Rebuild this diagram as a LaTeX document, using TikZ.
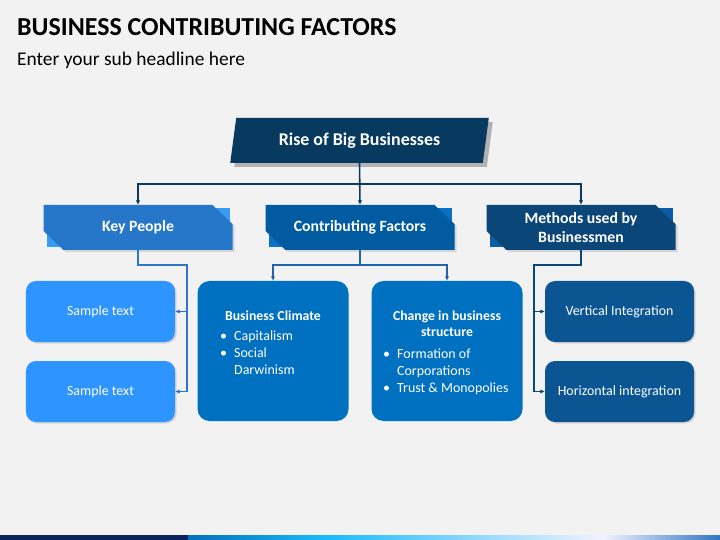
\documentclass[tikz,border=0pt]{standalone}
\usepackage{fontspec}
\setmainfont{Carlito}
\usepackage{tikz}
\usetikzlibrary{shadows}
\usetikzlibrary{positioning}
\usetikzlibrary{arrows.meta,shapes}
\usetikzlibrary{shapes.geometric}
\usetikzlibrary{calc}
\definecolor{pagebg}{HTML}{F2F2F2}
\definecolor{barnavy}{HTML}{0A2160}
\definecolor{headnavy}{HTML}{073A5E}
\definecolor{kpfront}{HTML}{2677C9}
\definecolor{kpback}{HTML}{3A9BF5}
\definecolor{cffront}{HTML}{005BA0}
\definecolor{cfback}{HTML}{0A72C4}
\definecolor{mbfront}{HTML}{0A4677}
\definecolor{mbback}{HTML}{0D5DA6}
\definecolor{samplefill}{HTML}{2E94FF}
\definecolor{climatefill}{HTML}{0070C0}
\definecolor{methodfill}{HTML}{0A5592}
\definecolor{kpline}{HTML}{2E75C6}
\definecolor{cfline}{HTML}{1F64A8}
\pgfdeclarehorizontalshading{barshade}{100bp}{color(0bp)=(climatefill); color(25bp)=(climatefill); color(38bp)=(cyan!70!blue!90!white); color(64bp)=(white!95!blue); color(75bp)=(kpline); color(100bp)=(kpline)}
\tikzstyle{headbox}=[trapezium, trapezium left angle=76, trapezium right angle=104, trapezium stretches=true, fill=headnavy, minimum width=259bp, minimum height=45bp, inner sep=0pt, text=white, font=\fontsize{18}{21}\selectfont\bfseries, drop shadow={shadow xshift=4bp, shadow yshift=-4bp, fill=black!30, opacity=1}]
\tikzstyle{tabtext}=[minimum width=189bp, minimum height=45bp, inner sep=0pt, align=center, text=white, font=\fontsize{15.8}{19}\selectfont\bfseries]
\tikzstyle{smallbox}=[rounded corners=10bp, minimum width=149bp, minimum height=61bp, inner sep=0pt, text=white, font=\fontsize{14}{16}\selectfont, drop shadow={shadow xshift=1.5bp, shadow yshift=-1.5bp, opacity=0.25}]
\tikzstyle{bigbox}=[rounded corners=12bp, fill=climatefill, minimum width=151bp, minimum height=140bp, inner sep=0pt]
\tikzstyle{boxhead}=[inner sep=0pt, anchor=north, text=white, font=\fontsize{13.8}{17}\selectfont\bfseries]
\tikzstyle{boxlist}=[inner sep=0pt, anchor=north west, text=white, font=\fontsize{14}{17}\selectfont]
\tikzstyle{edge} = [draw, line width=1.6bp, -{Latex[length=4.5bp,width=4.5bp]}]

\begin{document}
\begin{tikzpicture}[x=1bp, y=-1bp]

% page
    \fill[pagebg] (0,0) rectangle (720,540);
    \useasboundingbox (0,0) rectangle (720,540);
    \fill[barnavy] (0,535) rectangle (188,540);
    \shade[shading=barshade] (188,535) rectangle (720,540);

    \node[anchor=base west, inner sep=0pt, font=\fontsize{26}{30}\selectfont\bfseries] (title) at (17,36) {BUSINESS CONTRIBUTING FACTORS};
    \node[anchor=base west, inner sep=0pt, font=\fontsize{19.5}{23}\selectfont] (subtitle) at (17,66) {Enter your sub headline here};

% top box
    \node[headbox] (RB) at (359.5,140.5) {Rise of Big Businesses};

% second row
  \foreach \x/\name/\front/\back/\label in {138/KP/kpfront/kpback/{Key People}, 360/CF/cffront/cfback/{Contributing Factors}, 581/MB/mbfront/mbback/{Methods used by\\Businessmen}}
  {
    \fill[\back] (\x-91,208) rectangle (\x+92,247);
    \fill[\front, drop shadow={shadow xshift=2bp, shadow yshift=-2bp, opacity=0.25}] (\x-94.5,205) -- (\x+74.5,205) -- (\x+94.5,224) -- (\x+94.5,250) -- (\x-74.5,250) -- (\x-94.5,231) -- cycle;
    \node[tabtext] (\name) at (\x,227.5) {\label};
  }

% third row
  \foreach \pos/\name/\fill/\label in {{(100.5,311.5)/S1/samplefill/Sample text}, {(100.5,391.5)/S2/samplefill/Sample text}, {(619.5,311.5)/VI/methodfill/Vertical Integration}, {(619.5,391.5)/HI/methodfill/Horizontal integration}}
        \node[smallbox, fill=\fill] (\name) at \pos {\label};

    \node[bigbox] (BC) at (273,351) {};
    \node[bigbox] (CS) at (447,351) {};

    \node[boxhead] (bchead) at (273,308) {\begin{tabular}{@{}c@{}}Business Climate\end{tabular}};
    \node[boxlist] (bclist) at (220,328.5) {\begin{tabular}{@{}p{14bp}@{}l@{}}\textbullet & Capitalism\\ \textbullet & Social\\ & Darwinism\end{tabular}};

    \node[boxhead] (cshead) at (447,308) {\begin{tabular}{@{}c@{}}Change in business\\ structure\end{tabular}};
    \node[boxlist] (cslist) at (383,346.5) {\begin{tabular}{@{}p{14bp}@{}l@{}}\textbullet & Formation of\\ & Corporations\\ \textbullet & Trust \& Monopolies\end{tabular}};

    % Connect boxes with edges
    \path[edge, headnavy] (RB.south) -- (CF.north);
    \path[edge, headnavy] (RB.south) -- ++(0,21) -| (KP.north);
    \path[edge, headnavy] (RB.south) -- ++(0,21) -| (MB.north);

    \path[edge, kpline] (KP.south) -- ++(0,15) -| ($(S1.east)+(12,0)$) -- (S1.east);
    \path[edge, kpline] (KP.south) -- ++(0,15) -| ($(S2.east)+(12,0)$) -- (S2.east);

    \path[edge, cfline] (CF.south) -- ++(0,15) -| (BC.north);
    \path[edge, cfline] (CF.south) -- ++(0,15) -| (CS.north);

    \path[edge, mbfront] (MB.south) -- ++(0,15) -| ($(VI.west)+(-11,0)$) -- (VI.west);
    \path[edge, mbfront] (MB.south) -- ++(0,15) -| ($(HI.west)+(-11,0)$) -- (HI.west);

   \end{tikzpicture}
\end{document}
